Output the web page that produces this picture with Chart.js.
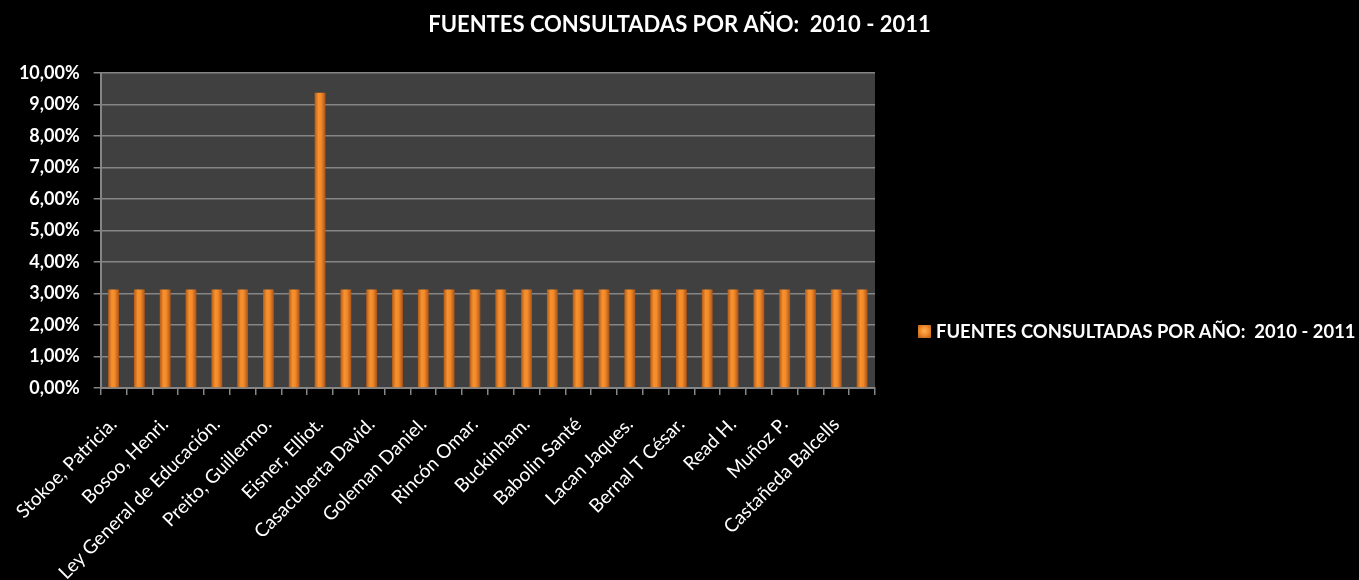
<!DOCTYPE html>
<html>
<head>
<meta charset="utf-8">
<script src="https://cdn.jsdelivr.net/npm/chart.js@4"></script>
<style>
  html, body { margin: 0; padding: 0; background: #000; }
  #caja { position: relative; width: 1359px; height: 580px; }
  #leyenda {
    position: absolute; left: 918px; top: 319px;
    font: bold 18.4px Lato, sans-serif; color: #fff; white-space: pre;
    display: flex; align-items: center; height: 24px;
  }
  #leyenda span.marca {
    display: inline-block; width: 13px; height: 13px; margin-right: 5px;
    background: radial-gradient(circle at 50% 45%, #ffb055 0%, #f18c2c 45%, #b35a18 100%);
  }
</style>
</head>
<body>
<div id="caja">
  <canvas id="graficoFuentes"></canvas>
  <div id="leyenda"><span class="marca"></span><span id="textoLeyenda"></span></div>
</div>
<script>
const titulo = "FUENTES CONSULTADAS POR AÑO:  2010 - 2011";

// 30 fuentes; solo se leen las etiquetas pares en la imagen
const fuentes = [
  "Stokoe, Patricia.", "", "Bosoo, Henri.", "", "Ley General de Educación.", "",
  "Preito, Guillermo.", "", "Eisner, Elliot.", "", "Casacuberta David.", "",
  "Goleman Daniel.", "", "Rincón Omar.", "", "Buckinham.", "",
  "Babolin Santé", "", "Lacan Jaques.", "", "Bernal T César.", "",
  "Read H.", "", "Muñoz P.", "", "Castañeda Balcells", ""
];

const porcentajes = [
  0.03125, 0.03125, 0.03125, 0.03125, 0.03125, 0.03125, 0.03125, 0.03125,
  0.09375, 0.03125, 0.03125, 0.03125, 0.03125, 0.03125, 0.03125, 0.03125,
  0.03125, 0.03125, 0.03125, 0.03125, 0.03125, 0.03125, 0.03125, 0.03125,
  0.03125, 0.03125, 0.03125, 0.03125, 0.03125, 0.03125
];

const anchoBarra = 0.42;
const gris = "#858585";

document.getElementById("textoLeyenda").textContent = titulo;

function colorBarra(c) {
  const ch = c.chart;
  const x = ch.scales && ch.scales.x;
  if (c.type !== "data" || !x || !ch.chartArea) return "#e8862a";
  const cx = x.getPixelForValue(c.dataIndex);
  const w = x.width / fuentes.length * anchoBarra;
  const g = ch.ctx.createLinearGradient(cx - w / 2, 0, cx + w / 2, 0);
  g.addColorStop(0, "#b35a18");
  g.addColorStop(0.35, "#f7922e");
  g.addColorStop(0.6, "#f38a28");
  g.addColorStop(1, "#a9531a");
  return g;
}

const fondoArea = {
  id: "fondoArea",
  beforeDraw(chart) {
    const a = chart.chartArea;
    const ctx = chart.ctx;
    ctx.save();
    ctx.fillStyle = "#000";
    ctx.fillRect(0, 0, chart.width, chart.height);
    ctx.fillStyle = "#404040";
    ctx.fillRect(a.left, a.top, a.right - a.left, a.bottom - a.top);
    ctx.restore();
  }
};

const ctx = document.getElementById("graficoFuentes").getContext("2d");
new Chart(ctx, {
  type: "bar",
  data: {
    labels: fuentes,
    datasets: [{
      label: titulo,
      data: porcentajes,
      backgroundColor: colorBarra,
      borderWidth: 0,
      categoryPercentage: 1,
      barPercentage: anchoBarra
    }]
  },
  options: {
    animation: false,
    responsive: true,
    maintainAspectRatio: false,
    devicePixelRatio: 1,
    layout: { padding: 0 },
    scales: {
      x: {
        afterFit(s) { s.height = 192; },
        grid: { offset: true, drawOnChartArea: false, color: gris, lineWidth: 1.5, tickLength: 7 },
        border: { color: gris, width: 2 },
        ticks: {
          autoSkip: false,
          minRotation: 45,
          maxRotation: 45,
          color: "#fff",
          padding: 18,
          font: { family: "Lato", size: 19 }
        }
      },
      y: {
        min: 0,
        max: 0.1,
        afterFit(s) { s.width = 100; },
        grid: { color: gris, lineWidth: 1.5, tickLength: 7 },
        border: { color: gris, width: 2 },
        ticks: {
          stepSize: 0.01,
          color: "#fff",
          padding: 14,
          font: { family: "Lato", size: 18, weight: "bold" },
          callback: v => (v * 100).toFixed(2).replace(".", ",") + "%"
        }
      },
      // espacio a la derecha para la leyenda
      hueco: {
        position: "right",
        afterFit(s) { s.width = 484; },
        grid: { display: false },
        border: { display: false },
        ticks: { display: false }
      }
    },
    plugins: {
      title: {
        display: true,
        text: titulo,
        color: "#fff",
        font: { family: "Lato", size: 22, weight: "bold" },
        padding: { top: 12, bottom: 34.6 }
      },
      legend: { display: false },
      tooltip: { enabled: false }
    }
  },
  plugins: [fondoArea]
});
</script>
</body>
</html>
